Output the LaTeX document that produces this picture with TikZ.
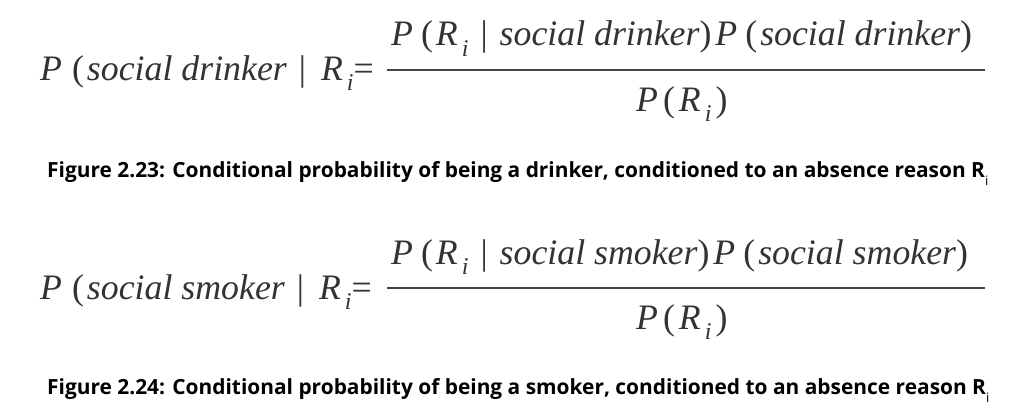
\documentclass[tikz,border=0pt]{standalone}
\usepackage{fontspec}
\newfontfamily\eqfont{Liberation Serif}
\newfontfamily\capfont{Open Sans}
\definecolor{eqgray}{HTML}{333333}
\definecolor{bargray}{HTML}{444444}
\newcommand\up[1]{{\upshape #1}}
\newcommand\sbi{\raisebox{-10pt}{\fontsize{24}{24}\selectfont i}}
\newcommand\Rsub{R\kern4pt\sbi}
\newcommand\capRi{R\raisebox{-8pt}{\mdseries\fontsize{13}{13}\selectfont i}}
\tikzset{
  eqtext/.style={inner sep=0pt, text=eqgray, font=\eqfont\fontsize{35.8}{40}\selectfont\itshape},
  captext/.style={inner sep=0pt, anchor=base west, text=black, font=\capfont\bfseries\fontsize{20.9}{24}\selectfont},
  fracbar/.style={draw=bargray, line width=2pt}
}
\begin{document}
\begin{tikzpicture}[x=1pt,y=-1pt]
\useasboundingbox[fill=white] (0,0) rectangle (1036,412);
% equation 1
\node[eqtext, anchor=base west] (l1) at (40,81) {P\kern10pt\up{(}\kern3pt social drinker\kern12pt\up{|}\kern15pt\Rsub\up{=}};
\node[eqtext, anchor=base west] (n1) at (391,46) {P\kern8pt\up{(}\kern3pt\Rsub\kern12pt\up{|}\kern12pt social drinker\up{)}\kern4pt P\kern8pt\up{(}\kern3pt social drinker\up{)}};
\node[eqtext, anchor=base west] (d1) at (636,111) {P\kern5pt\up{(}\kern4pt\Rsub\kern4pt\up{)}};
\coordinate (b1l) at (387,70);
\coordinate (b1r) at (985,70);
\draw[fracbar] (b1l) -- (b1r);
\node[captext] (c1) at (47,177) {Figure 2.23: Conditional probability of being a drinker, conditioned to an absence reason \capRi};
% equation 2
\node[eqtext, anchor=base west] (l2) at (40,299) {P\kern10pt\up{(}\kern3pt social smoker\kern12pt\up{|}\kern15pt\Rsub\up{=}};
\node[eqtext, anchor=base west] (n2) at (391,264) {P\kern8pt\up{(}\kern3pt\Rsub\kern12pt\up{|}\kern12pt social smoker\up{)}\kern4pt P\kern8pt\up{(}\kern3pt social smoker\up{)}};
\node[eqtext, anchor=base west] (d2) at (636,329) {P\kern5pt\up{(}\kern4pt\Rsub\kern4pt\up{)}};
\coordinate (b2l) at (387,288);
\coordinate (b2r) at (985,288);
\draw[fracbar] (b2l) -- (b2r);
\node[captext] (c2) at (47,394) {Figure 2.24: Conditional probability of being a smoker, conditioned to an absence reason \capRi};
\end{tikzpicture}
\end{document}
